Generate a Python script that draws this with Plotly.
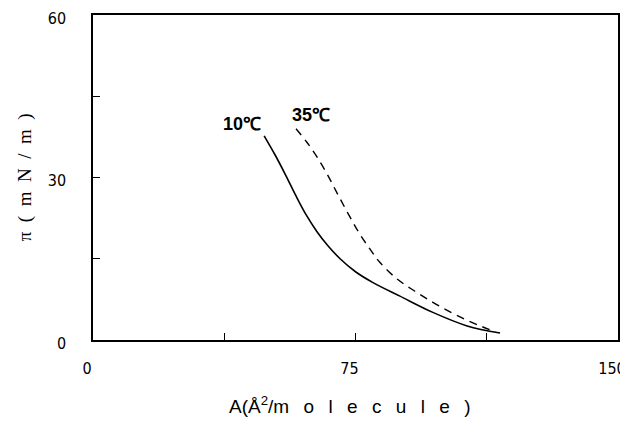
import plotly.graph_objects as go

# Data
area_10 = [48.9, 52.0, 55.0, 58.0, 61.0, 64.0, 67.0, 70.6, 75.0, 80.0, 87.7, 97.1, 106.9, 116.3]
pi_10 = [37.7, 34.2, 30.5, 26.6, 23.0, 20.0, 17.5, 15.0, 12.6, 10.6, 8.1, 5.1, 2.6, 1.3]

area_35 = [58.0, 61.0, 64.0, 67.0, 70.0, 73.0, 76.0, 79.0, 82.0, 87.0, 92.0, 97.0, 102.0, 107.0, 111.4, 115.0]
pi_35 = [39.0, 36.6, 33.8, 30.5, 26.8, 23.2, 19.8, 16.9, 14.3, 11.2, 9.0, 7.0, 5.2, 3.6, 2.4, 1.5]

x_tickvals = [0, 75, 150]
x_ticktext = ["0", "75", "150"]
x_minor_step = 37.5
y_tickvals = [0, 30, 60]
y_ticktext = ["0", "30", "60"]
y_minor_step = 15

fig = go.Figure()
fig.add_trace(go.Scatter(x=area_10, y=pi_10, mode="lines",
                         line=dict(color="black", width=1.6, shape="spline", smoothing=1.0), name="10℃"))
fig.add_trace(go.Scatter(x=area_35, y=pi_35, mode="lines",
                         line=dict(color="black", width=1.4, dash="8px,6px", shape="spline", smoothing=1.0), name="35℃"))

tickfont = dict(family="Liberation Sans Narrow, DejaVu Sans Condensed, Roboto Condensed, sans-serif", size=16, color="black")

# plot area in figure pixels (page body has an 8px margin)
L, R, T, B = 85, 610, 7, 332
W, H = 628, 428

fig.update_layout(
    width=W, height=H,
    margin=dict(l=L, r=W - R, t=T, b=H - B, autoexpand=False),
    paper_bgcolor="white", plot_bgcolor="white",
    showlegend=False,
    xaxis=dict(range=[0, 150], tickvals=x_tickvals, ticktext=x_ticktext, ticks="inside", ticklen=7,
               tickcolor="black", showline=True, linecolor="black", linewidth=1.5, mirror=True,
               minor=dict(tick0=0, dtick=x_minor_step, ticks="inside", ticklen=7, tickcolor="black", showgrid=False),
               showgrid=False, zeroline=False, tickfont=tickfont, ticklabelstandoff=13,
               ticklabelshift=-6, automargin=False, ticklabeloverflow="allow"),
    yaxis=dict(range=[0, 60], tickvals=y_tickvals, ticktext=y_ticktext, ticks="inside", ticklen=7,
               tickcolor="black", showline=True, linecolor="black", linewidth=1.5, mirror=True,
               minor=dict(tick0=0, dtick=y_minor_step, ticks="inside", ticklen=7, tickcolor="black", showgrid=False),
               showgrid=False, zeroline=False, tickfont=tickfont, ticklabelstandoff=22,
               ticklabelshift=3, automargin=False, ticklabeloverflow="allow"),
)

fig.add_annotation(text="<b>10℃</b>", x=42.6, y=39.9, xref="x", yref="y", showarrow=False,
                   font=dict(family="Liberation Sans, Arial, sans-serif", size=18, color="black"))
fig.add_annotation(text="<b>35℃</b>", x=62.3, y=41.5, xref="x", yref="y", showarrow=False,
                   font=dict(family="Liberation Sans, Arial, sans-serif", size=18, color="black"))

nb = "\u00a0\u00a0"
sp = "\u00a0\u00a0\u2009"
fig.add_annotation(text="A(Å<sup>2</sup>/" + sp.join(list("molecule")) + sp + ")",
                   x=0.49, y=-0.2, xref="paper", yref="paper", xanchor="center", yanchor="middle", showarrow=False,
                   font=dict(family="Liberation Sans, Arial, sans-serif", size=19, color="black"))
fig.add_annotation(text="π" + nb + "(" + nb + "m" + nb + "N" + nb + "/" + nb + "m" + nb + ")",
                   x=-0.13, y=0.5, xref="paper", yref="paper", xanchor="center", yanchor="middle", showarrow=False,
                   textangle=-90,
                   font=dict(family="Liberation Serif, serif", size=19, color="black"))

fig.write_html("out.html")
